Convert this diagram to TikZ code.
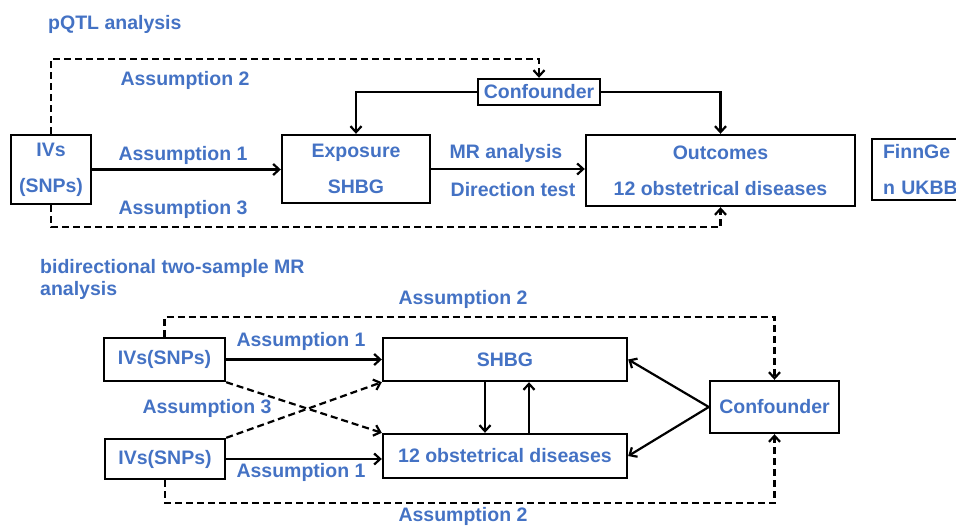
\documentclass[tikz,border=0pt]{standalone}
\usepackage{fontspec}
\setmainfont{Liberation Sans}
\usetikzlibrary{arrows.meta}
\definecolor{txtblue}{HTML}{4472C4}
\tikzset{
  lbl/.style={text=txtblue, font=\bfseries\fontsize{19.5}{22}\selectfont, inner sep=0pt},
  box/.style={draw=black, line width=2.4pt, text=txtblue, font=\bfseries\fontsize{19.5}{36}\selectfont, inner sep=0pt, align=center},
  conn/.style={line width=2.2pt, -{Straight Barb[length=6pt,width=11pt,line width=2.2pt]}},
  dconn/.style={conn, dash pattern=on 7pt off 4pt},
}
\begin{document}
\begin{tikzpicture}[x=1pt,y=-1pt]
\useasboundingbox (0,0) rectangle (956,525);

% ---------- top section ----------
\node[lbl, anchor=west] (t1) at (48,24) {pQTL analysis};

\node[box, minimum width=80pt, minimum height=69pt] (ivs1) at (51,169.5) {IVs\\(SNPs)};
\node[box, minimum width=148pt, minimum height=68pt] (expo) at (356,169) {Exposure\\SHBG};
\node[box, minimum width=269pt, minimum height=71pt] (outc) at (720.5,170.5) {Outcomes\\12 obstetrical diseases};
\node[box, minimum width=100pt, minimum height=61pt, align=left, text width=78pt] (finn) at (922,169.5) {FinnGe\\n UKBB};
\node[box, minimum width=122pt, minimum height=26pt] (conf1) at (539,92) {Confounder};

\node[lbl] (a2t) at (185,80) {Assumption 2};
\node[lbl] (a1t) at (183,155) {Assumption 1};
\node[lbl] (a3t) at (183,209) {Assumption 3};
\node[lbl] (mr) at (506,153) {MR analysis};
\node[lbl] (dt) at (513,190) {Direction test};

\draw[dconn] (ivs1.north) -- ++(0,-75) -| (conf1.north);
\draw[conn] (conf1.west) -| (expo.north);
\draw[conn] (conf1.east) -| (outc.north);
\draw[conn] (ivs1.east) -- (ivs1.east -| expo.west);
\draw[conn] (expo.east) -- (expo.east -| outc.west);
\draw[dconn] (ivs1.south) -- ++(0,22) -| (outc.south);

% ---------- bottom section ----------
\node[lbl, anchor=north west, align=left] (t2) at (40,259) {bidirectional two-sample MR\\analysis};

\node[box, minimum width=121pt, minimum height=43pt] (ivsA) at (164.5,359.5) {IVs(SNPs)};
\node[box, minimum width=120pt, minimum height=40pt] (ivsB) at (165,459) {IVs(SNPs)};
\node[box, minimum width=244pt, minimum height=43pt] (shbg) at (505,359.5) {SHBG};
\node[box, minimum width=244pt, minimum height=44pt] (dis) at (505,456) {12 obstetrical diseases};
\node[box, minimum width=129pt, minimum height=52pt] (conf2) at (774.5,407) {Confounder};

\node[lbl] (b2t) at (463,299) {Assumption 2};
\node[lbl] (b1t) at (301,341) {Assumption 1};
\node[lbl] (b3) at (207,408) {Assumption 3};
\node[lbl] (b1b) at (301,472) {Assumption 1};
\node[lbl] (b2b) at (463,516) {Assumption 2};

\draw[conn] (ivsA.east) -- (shbg.west);
\draw[conn] (ivsB.east) -- (ivsB.east -| dis.west);
\draw[dconn] (ivsA.south east) -- (dis.north west);
\draw[dconn] (ivsB.north east) -- (shbg.south west);
\draw[dconn] (ivsA.north) -- ++(0,-20) -| (conf2.north);
\draw[dconn] (ivsB.south) -- ++(0,23) -| (conf2.south);
\draw[conn] ([xshift=-20pt]shbg.south) -- ([xshift=-20pt]dis.north);
\draw[conn] ([xshift=24pt]dis.north) -- ([xshift=24pt]shbg.south);
\draw[conn] (conf2.west) -- (shbg.east);
\draw[conn] (conf2.west) -- (dis.east);
\end{tikzpicture}
\end{document}
